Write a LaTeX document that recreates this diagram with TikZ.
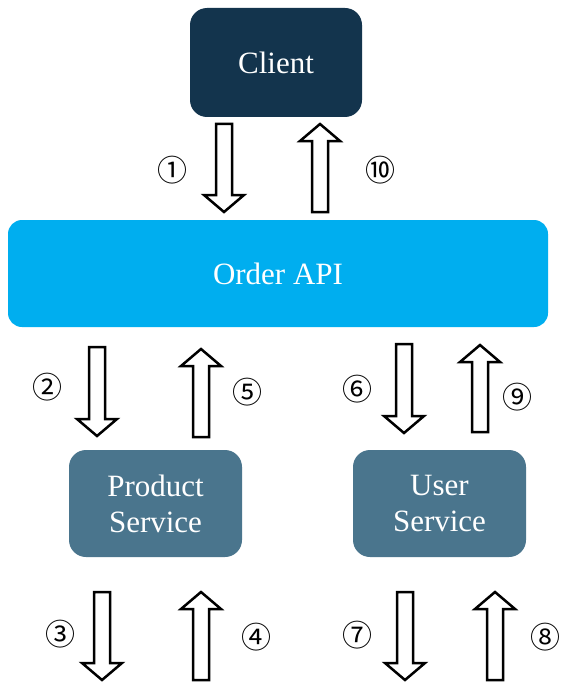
\documentclass[tikz,border=0pt]{standalone}
\usepackage{fontspec}
\setmainfont{Liberation Serif}
\newfontfamily\circfont{Noto Sans CJK SC}[Scale=1]
\definecolor{clientc}{HTML}{13344D}
\definecolor{apic}{HTML}{00AEEF}
\definecolor{svcc}{HTML}{4A758D}
\newcommand{\downblk}[3]{% x, ytop, ytip
  \draw[blockarrow] (#1-8,#2) -- (#1+8,#2) -- (#1+8,#3-17) -- (#1+20,#3-17) -- (#1,#3) -- (#1-20,#3-17) -- (#1-8,#3-17) -- cycle;}
\newcommand{\upblk}[3]{% x, ybottom, ytip
  \draw[blockarrow] (#1-8,#2) -- (#1+8,#2) -- (#1+8,#3+17) -- (#1+20,#3+17) -- (#1,#3) -- (#1-20,#3+17) -- (#1-8,#3+17) -- cycle;}
\begin{document}
\begin{tikzpicture}[x=1pt,y=-1pt,
  box/.style={rounded corners=17pt, text=white, align=center, inner sep=0pt,
    font=\fontsize{31}{36}\selectfont},
  blockarrow/.style={draw=black, line width=2.5pt, fill=white, line join=miter},
  num/.style={font=\circfont\fontsize{30}{30}\selectfont, inner sep=0pt}]
\useasboundingbox[fill=white] (0,0) rectangle (565,682);
\node[box, fill=clientc, minimum width=172pt, minimum height=109pt] (client) at (276,62.5) {Client};
\node[box, fill=apic, rounded corners=14pt, minimum width=540pt, minimum height=107pt] (api) at (278,273.5) {Order API};
\node[box, fill=svcc, minimum width=173pt, minimum height=107pt] (product) at (155.5,503.5) {Product\\Service};
\node[box, fill=svcc, minimum width=173pt, minimum height=107pt] (user) at (439.5,503.5) {User\\Service};
% arrows
\downblk{224}{124}{212}
\upblk{320}{212}{124}
\downblk{97}{347}{436}
\upblk{201}{437}{349}
\downblk{404}{344}{433}
\upblk{480}{432}{345}
\downblk{102}{592}{680}
\upblk{201}{680}{592}
\downblk{405}{592}{680}
\upblk{495}{680}{592}
% labels
\node[num] (n1) at (172,170) {①};
\node[num] (n10) at (380,170) {⑩};
\node[num] (n2) at (47,387) {②};
\node[num] (n5) at (247,392) {⑤};
\node[num] (n6) at (357,389) {⑥};
\node[num] (n9) at (517,397) {⑨};
\node[num] (n3) at (60,634) {③};
\node[num] (n4) at (256,637) {④};
\node[num] (n7) at (357,635) {⑦};
\node[num] (n8) at (545,637) {⑧};
\end{tikzpicture}
\end{document}
